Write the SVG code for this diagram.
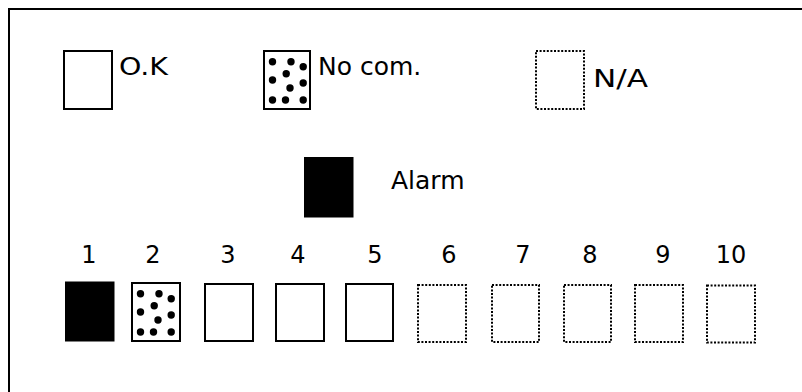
<svg xmlns="http://www.w3.org/2000/svg" width="802" height="392" viewBox="0 0 802 392">
<defs>
<style>
.box{fill:#fff;stroke:#000;stroke-width:2}
.alarm{fill:#000;stroke:#000;stroke-width:1}
.na{fill:#fff;stroke:#000;stroke-width:2;stroke-dasharray:2 1.6}
.t{font-family:"DejaVu Sans","Liberation Sans",sans-serif;font-size:25px;fill:#000}
.n{font-family:"DejaVu Sans","Liberation Sans",sans-serif;font-size:24px;fill:#000;text-anchor:middle}
</style>
<g id="dots">
<circle cx="8.5" cy="10.7" r="3.7"/><circle cx="27" cy="10.7" r="3.7"/><circle cx="39.2" cy="15.7" r="3.7"/>
<circle cx="22.2" cy="22.8" r="3.7"/><circle cx="8.5" cy="29" r="3.7"/><circle cx="39.2" cy="32" r="3.7"/>
<circle cx="26" cy="37" r="3.7"/><circle cx="8.5" cy="49" r="3.7"/><circle cx="21.5" cy="49" r="3.7"/><circle cx="39.2" cy="49" r="3.7"/>
</g>
</defs>
<rect width="802" height="392" fill="#fff"/>
<path d="M9,392 V9 H802" fill="none" stroke="#000" stroke-width="2"/>
<g id="legend-ok"><rect class="box" x="64" y="51" width="48" height="58"/><text class="t" x="119" y="75" textLength="49" lengthAdjust="spacingAndGlyphs">O.K</text></g>
<g id="legend-nocom"><rect class="box" x="264" y="51" width="46" height="58"/><use href="#dots" x="264" y="51"/><text class="t" x="318" y="75">No com.</text></g>
<g id="legend-na"><rect class="na" x="536" y="51" width="48" height="58"/><text class="t" x="593" y="87" font-size="27" textLength="55" lengthAdjust="spacingAndGlyphs">N/A</text></g>
<g id="legend-alarm"><rect class="alarm" x="304.5" y="157.5" width="48.5" height="59.5"/><text class="t" x="391" y="189">Alarm</text></g>
<g id="n1"><text class="n" x="89" y="263">1</text><rect class="alarm" x="65.5" y="282" width="48.5" height="59"/></g>
<g id="n2"><text class="n" x="153" y="263">2</text><rect class="box" x="132" y="283" width="48" height="58"/><use href="#dots" x="132" y="283"/></g>
<g id="n3"><text class="n" x="228" y="263">3</text><rect class="box" x="205" y="284" width="48" height="57"/></g>
<g id="n4"><text class="n" x="298" y="263">4</text><rect class="box" x="276" y="284" width="48" height="57"/></g>
<g id="n5"><text class="n" x="375" y="263">5</text><rect class="box" x="346" y="284" width="47" height="57"/></g>
<g id="n6"><text class="n" x="449" y="263">6</text><rect class="na" x="418" y="285" width="48" height="57"/></g>
<g id="n7"><text class="n" x="523" y="263">7</text><rect class="na" x="492" y="285" width="47" height="57"/></g>
<g id="n8"><text class="n" x="590" y="263">8</text><rect class="na" x="564" y="285" width="47" height="57"/></g>
<g id="n9"><text class="n" x="663" y="263">9</text><rect class="na" x="635" y="285" width="48" height="57"/></g>
<g id="n10"><text class="n" x="731" y="263">10</text><rect class="na" x="707" y="285.5" width="48" height="57"/></g>
</svg>
